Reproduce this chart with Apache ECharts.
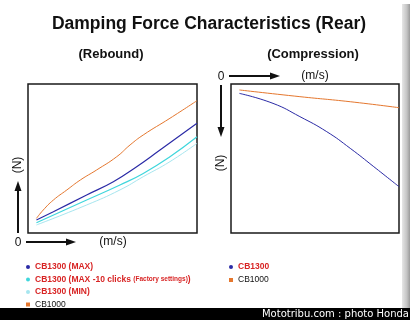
<!DOCTYPE html>
<html>
<head>
<meta charset="utf-8">
<script src="https://cdn.jsdelivr.net/npm/echarts@6/dist/echarts.min.js"></script>
<style>
  html, body { margin: 0; padding: 0; background: #fff; }
  #chart { width: 410px; height: 320px; }
</style>
</head>
<body>
<div id="chart"></div>
<script>
// both axes 0..100 (arbitrary units, no ticks shown)
var reboundCB1000 = [[5, 9.8], [9, 15.4], [15, 22.1], [23, 28.9], [31, 35.6], [40.6, 42.3], [52.5, 51.2], [60.4, 59.1], [68.2, 65.8], [84, 77], [100, 88.8]];
var reboundMax = [[5, 8.7], [15, 14.3], [34.7, 25.5], [50.5, 34.4], [64.3, 44.5], [78.1, 55.7], [100, 73.6]];
var reboundMax10 = [[5, 6.9], [34.7, 22.1], [54.4, 32.2], [68.2, 40], [84, 51.2], [100, 64.6]];
var reboundMin = [[5, 5.4], [34.7, 18.8], [54.4, 28.9], [68.2, 37.8], [84, 47.9], [100, 60.2]];

var compCB1000 = [[5, 4], [41, 8.5], [71, 11.9], [100, 15.9]];
var compCB1300 = [[5, 6.3], [25, 13], [41, 21.9], [57, 32], [71, 43.2], [85, 55.5], [100, 68.9]];

var chart = echarts.init(document.getElementById('chart'));

var sans = 'Liberation Sans, Arial, sans-serif';
var red = '#d82424';

function arrow(x1, y1, x2, y2) {
    // shaft + head, decoration only
    var dx = x2 - x1, dy = y2 - y1;
    var len = Math.sqrt(dx * dx + dy * dy);
    var ux = dx / len, uy = dy / len;
    var hl = 10, hw = 3.5;
    var bx = x2 - ux * hl, by = y2 - uy * hl;
    return [
        { type: 'line', shape: { x1: x1, y1: y1, x2: bx, y2: by }, style: { stroke: '#111', lineWidth: 2 } },
        { type: 'polygon', shape: { points: [[x2, y2], [bx - uy * hw, by + ux * hw], [bx + uy * hw, by - ux * hw]] }, style: { fill: '#111' } }
    ];
}

function label(text, x, y, size, weight, rot) {
    return { type: 'text', x: x, y: y, rotation: rot || 0,
        style: { text: text, fontSize: size, fontWeight: weight || 'normal', fill: '#111',
                 align: 'center', verticalAlign: 'middle', fontFamily: sans } };
}

function lineSeries(name, data, color, width, idx) {
    return {
        name: name,
        type: 'line',
        xAxisIndex: idx,
        yAxisIndex: idx,
        data: data,
        smooth: true,
        symbol: 'none',
        lineStyle: { color: color, width: width },
        itemStyle: { color: color }
    };
}

var hiddenAxis = {
    type: 'value', min: 0, max: 100,
    axisLine: { show: false }, axisTick: { show: false },
    axisLabel: { show: false }, splitLine: { show: false }
};

var legendText = {
    fontSize: 8.5, fontWeight: 'bold', fontFamily: sans, color: red, lineHeight: 10,
    rich: { s: { fontSize: 6.5, fontWeight: 'bold', fontFamily: sans, color: red, lineHeight: 10 } }
};

var option = {
    backgroundColor: '#fff',
    animation: false,
    grid: [
        { left: 28, top: 84, width: 169, height: 149, show: true, borderColor: '#1a1a1a', borderWidth: 1.5, backgroundColor: '#fff' },
        { left: 231, top: 84, width: 168, height: 149, show: true, borderColor: '#1a1a1a', borderWidth: 1.5, backgroundColor: '#fff' }
    ],
    xAxis: [
        Object.assign({ gridIndex: 0 }, hiddenAxis),
        Object.assign({ gridIndex: 1 }, hiddenAxis)
    ],
    yAxis: [
        Object.assign({ gridIndex: 0 }, hiddenAxis),
        Object.assign({ gridIndex: 1, inverse: true }, hiddenAxis)
    ],
    legend: [
        {
            orient: 'vertical', left: 26, top: 262, itemGap: 2.5, padding: 0,
            itemWidth: 4, itemHeight: 4,
            textStyle: legendText,
            formatter: function (name) {
                return name.replace('(Factory settings)', '{s|(Factory settings)}');
            },
            data: [
                { name: 'CB1300 (MAX)', icon: 'circle' },
                { name: 'CB1300 (MAX -10 clicks (Factory settings))', icon: 'circle' },
                { name: 'CB1300 (MIN)', icon: 'circle' },
                { name: 'CB1000', icon: 'rect', textStyle: { color: '#111', fontWeight: 'normal' } }
            ]
        },
        {
            orient: 'vertical', left: 229, top: 262, itemGap: 3, padding: 0,
            itemWidth: 4, itemHeight: 4,
            textStyle: legendText,
            data: [
                { name: 'CB1300', icon: 'circle' },
                { name: 'CB1000', icon: 'rect', textStyle: { color: '#111', fontWeight: 'normal' } }
            ]
        }
    ],
    series: [
        lineSeries('CB1000', reboundCB1000, '#e5772e', 1, 0),
        lineSeries('CB1300 (MAX)', reboundMax, '#2b2ba6', 1.2, 0),
        lineSeries('CB1300 (MAX -10 clicks (Factory settings))', reboundMax10, '#3fd6dc', 1.2, 0),
        lineSeries('CB1300 (MIN)', reboundMin, '#a6e6ef', 1, 0),
        lineSeries('CB1000', compCB1000, '#e5772e', 1, 1),
        lineSeries('CB1300', compCB1300, '#2b2ba6', 1, 1)
    ],
    graphic: [].concat(
        arrow(18, 233, 18, 181),
        arrow(26, 242, 76, 242),
        arrow(229, 76, 280, 76),
        arrow(221, 85, 221, 137),
        [
            label('Damping Force Characteristics (Rear)', 209, 24, 17.5, 'bold'),
            label('(Rebound)', 111, 54, 13, 'bold'),
            label('(Compression)', 313, 54, 13, 'bold'),
            label('(N)', 18, 165, 12, 'normal', Math.PI / 2),
            label('(N)', 221, 163, 12, 'normal', Math.PI / 2),
            label('0', 18, 243, 12),
            label('0', 221, 77, 12),
            label('(m/s)', 113, 242, 12),
            label('(m/s)', 315, 76, 12),
            // right-edge page shadow
            { type: 'rect', shape: { x: 402, y: 4, width: 8, height: 304 },
              style: { fill: new echarts.graphic.LinearGradient(0, 0, 1, 0, [
                  { offset: 0, color: '#e6e6e6' }, { offset: 0.6, color: '#c4c4c4' }, { offset: 1, color: '#9a9a9a' }]) } },
            // credit bar
            { type: 'rect', shape: { x: 0, y: 308, width: 410, height: 12 }, style: { fill: '#000' } },
            { type: 'text', x: 409, y: 314,
              style: { text: 'Mototribu.com : photo Honda', fontSize: 10, fill: '#fff', align: 'right', verticalAlign: 'middle', fontFamily: 'DejaVu Sans, sans-serif' } }
        ]
    )
};

chart.setOption(option);
</script>
</body>
</html>
